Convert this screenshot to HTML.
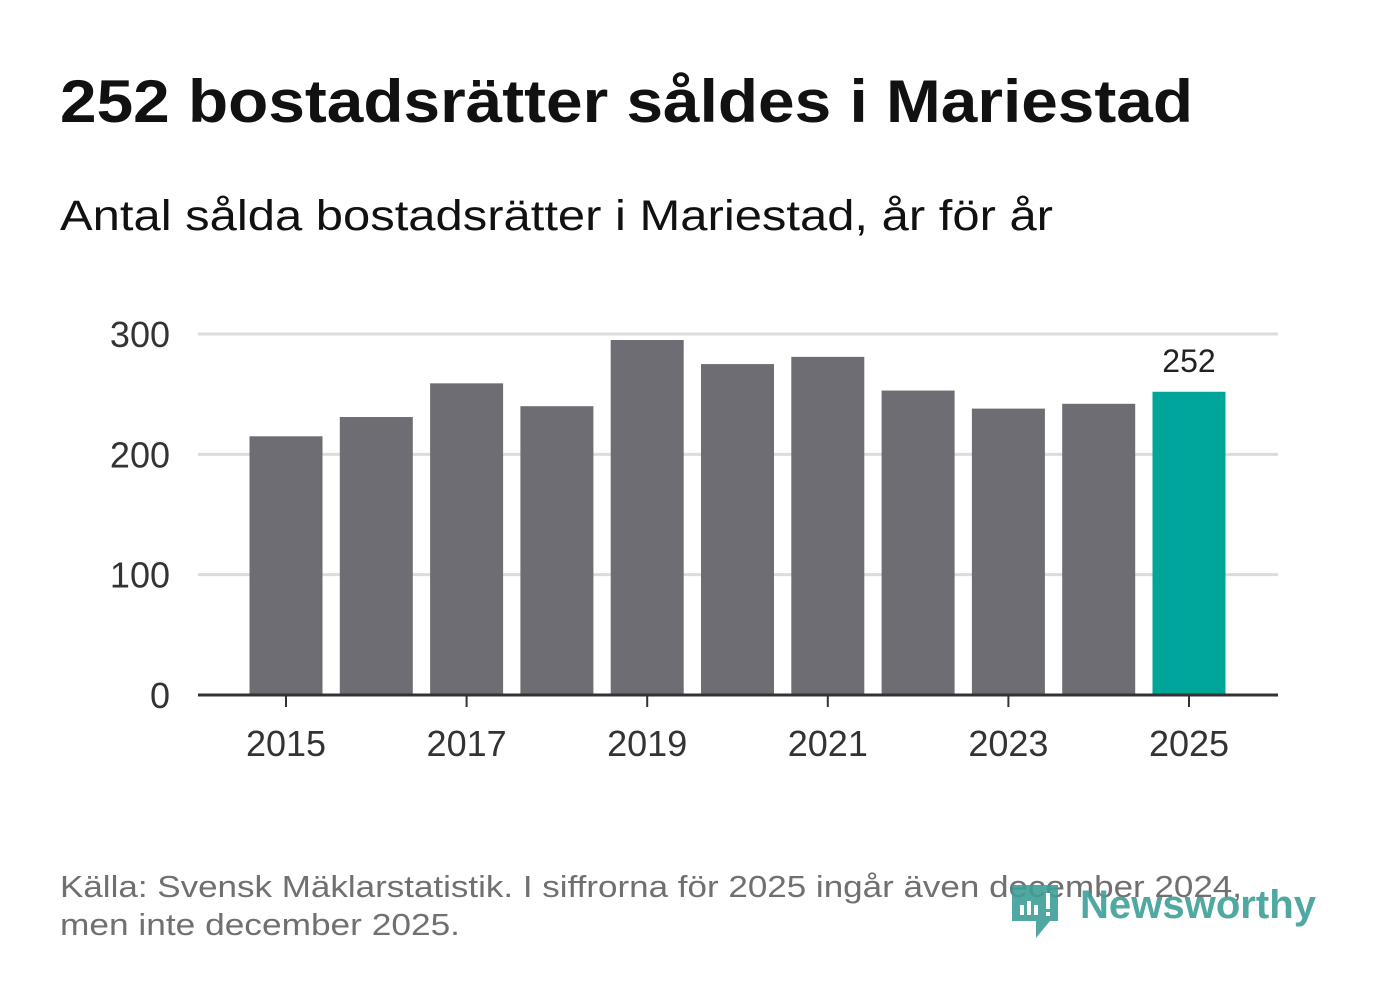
<!DOCTYPE html>
<html><head><meta charset="utf-8"><style>
html,body{margin:0;padding:0;background:#fff;}
svg{display:block;font-family:"Liberation Sans","DejaVu Sans",sans-serif;}
</style></head><body>
<svg id="chart" width="1382" height="999" viewBox="0 0 1382 999" xmlns="http://www.w3.org/2000/svg">
<rect width="1382" height="999" fill="#fff"/>
<text x="60" y="122" font-size="60" font-weight="bold" fill="#111" textLength="1133" lengthAdjust="spacingAndGlyphs">252 bostadsrätter såldes i Mariestad</text>
<text x="60" y="230" font-size="43" fill="#111" textLength="993" lengthAdjust="spacingAndGlyphs">Antal sålda bostadsrätter i Mariestad, år för år</text>
<g id="grid"></g>
<g id="bars"></g>
<g id="axes"></g>
<text x="60" y="897" font-size="31" fill="#707070" textLength="1182" lengthAdjust="spacingAndGlyphs">Källa: Svensk Mäklarstatistik. I siffrorna för 2025 ingår även december 2024,</text>
<text x="60" y="935" font-size="31" fill="#707070" textLength="400" lengthAdjust="spacingAndGlyphs">men inte december 2025.</text>
<g>
<path d="M1012 885 h46 v36 h-8 l-14 17 v-17 h-24 z" fill="#3e9f98" opacity="0.9"/>
<rect x="1020" y="905" width="4" height="10" fill="#fff"/>
<rect x="1027" y="901" width="4" height="14" fill="#fff"/>
<rect x="1034" y="905" width="4" height="10" fill="#fff"/>
<rect x="1046" y="893" width="4" height="16" fill="#fff"/>
<rect x="1046" y="912" width="4" height="4" fill="#fff"/>
<text x="1080" y="918" font-size="40" font-weight="bold" fill="#3e9f98" opacity="0.9" textLength="236" lengthAdjust="spacingAndGlyphs">Newsworthy</text>
</g>
</svg>
<script>
const years = [2015,2016,2017,2018,2019,2020,2021,2022,2023,2024,2025];
const values = [215,231,259,240,295,275,281,253,238,242,252];
const yTicks = [0,100,200,300];
const xTickLabels = [2015,2017,2019,2021,2023,2025];
const highlightLabel = "252";

const NS="http://www.w3.org/2000/svg";
const y0=695, yPerUnit=(695-334)/300;
const x0=286, step=(1189-286)/10, bw=73;
function yScale(v){return y0-v*yPerUnit;}
function xScale(yr){return x0+(yr-2015)*step;}
function mk(tag,attrs,parent,txt){const e=document.createElementNS(NS,tag);for(const k in attrs)e.setAttribute(k,attrs[k]);if(txt!==undefined)e.textContent=txt;parent.appendChild(e);return e;}
const grid=document.getElementById('grid'),bars=document.getElementById('bars'),axes=document.getElementById('axes');
yTicks.forEach(t=>{
  if(t>0){const l=mk('line',{x1:198,x2:1278,y1:yScale(t),y2:yScale(t),stroke:'#dcdcdc','stroke-width':3},grid);
  
  }
  const tx=mk('text',{x:170,y:yScale(t)+13,'font-size':36,fill:'#333','text-anchor':'end'},axes,String(t));
  
  
});
years.forEach((yr,i)=>{
  const cx=xScale(yr), top=yScale(values[i]);
  const r=mk('rect',{x:cx-bw/2,y:top,width:bw,height:y0-top,fill:yr===2025?'#00a59a':'#6e6d73'},bars);
  
  
});
const li=years.length-1;
const lab=mk('text',{x:xScale(years[li]),y:yScale(values[li])-20,'font-size':32,fill:'#222','text-anchor':'middle'},bars,highlightLabel);


const ax=mk('line',{x1:198,x2:1278,y1:y0,y2:y0,stroke:'#333','stroke-width':3},axes);


xTickLabels.forEach(yr=>{
  const tk=mk('line',{x1:xScale(yr),x2:xScale(yr),y1:y0,y2:y0+12,stroke:'#333','stroke-width':2},axes);
  
  
  const t=mk('text',{x:xScale(yr),y:756,'font-size':36,fill:'#333','text-anchor':'middle'},axes,String(yr));
  
  
});
</script>
</body></html>
